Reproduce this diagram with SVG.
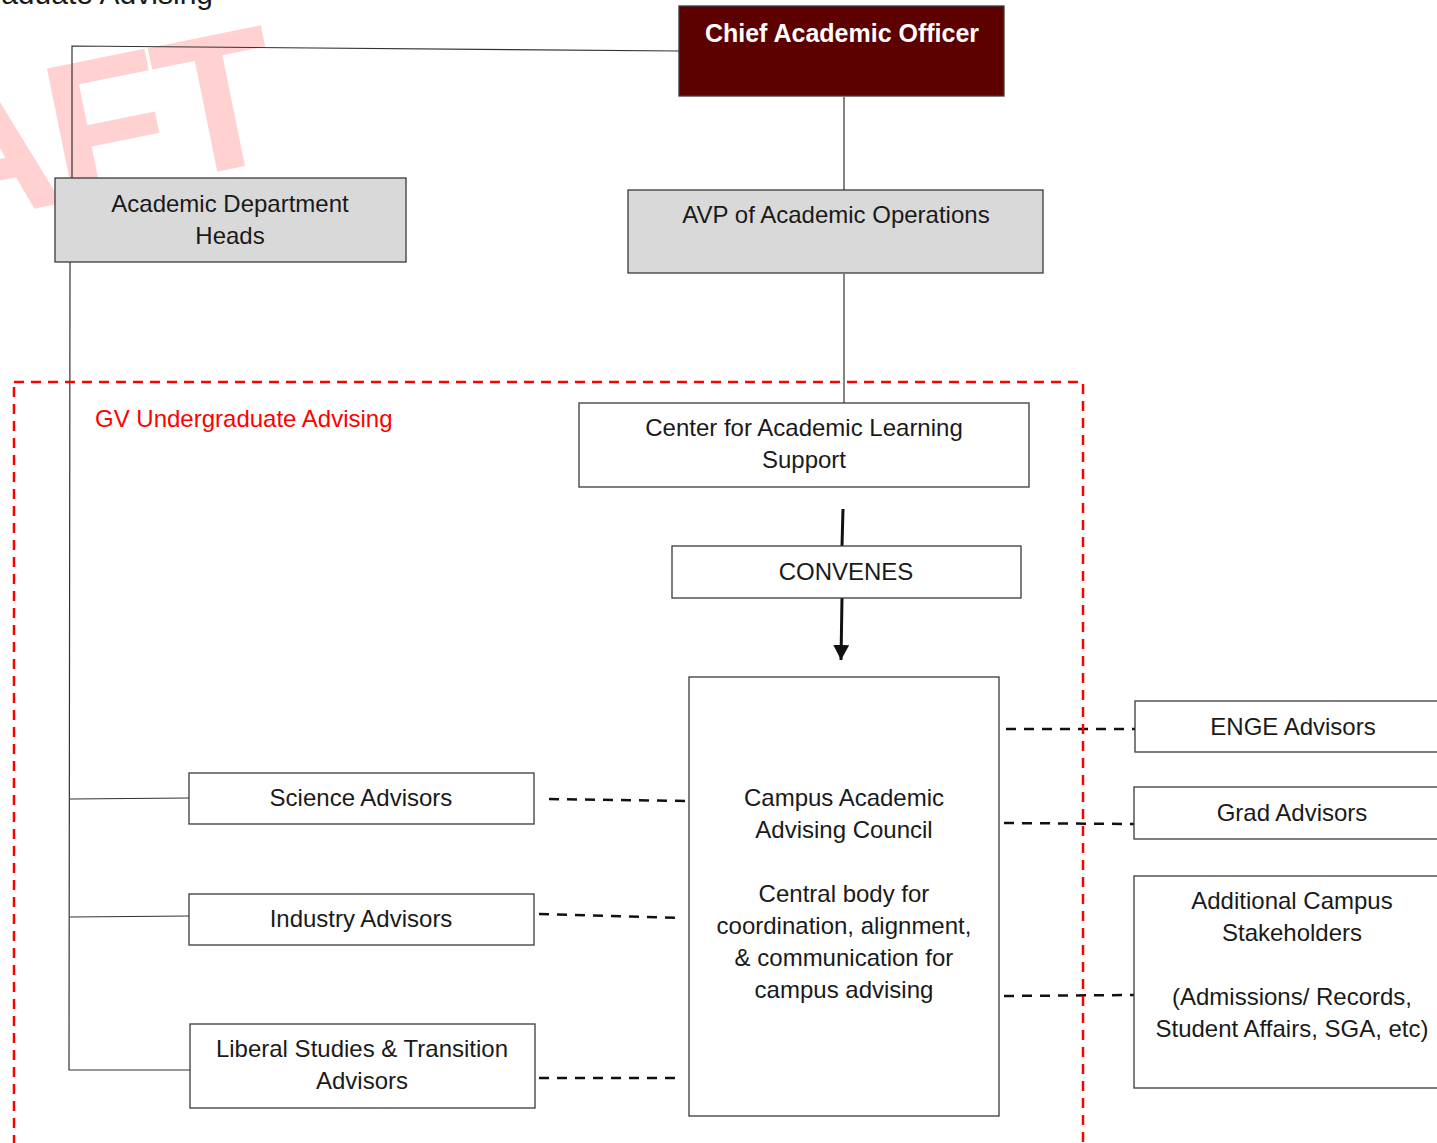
<svg xmlns="http://www.w3.org/2000/svg" width="1437" height="1143" viewBox="0 0 1437 1143">
<defs>
<marker id="arr" markerUnits="userSpaceOnUse" markerWidth="16" markerHeight="16" refX="15" refY="8" orient="auto">
<path d="M0,0 L15,8 L0,16 Z" fill="#111"/>
</marker>
<style>
.box{fill:#fff;stroke:#3a3a3a;stroke-width:1.3}
.gray{fill:#D9D9D9;stroke:#3a3a3a;stroke-width:1.3}
.t{font-family:"Liberation Sans",Arial,sans-serif;font-size:24px;fill:#1a1a1a;text-anchor:middle}
.ln{fill:none;stroke:#333;stroke-width:1.2}
.dash{fill:none;stroke:#111;stroke-width:2.5;stroke-dasharray:10 8}
.thick{fill:none;stroke:#111;stroke-width:3}
</style>
</defs>
<rect width="1437" height="1143" fill="#fff"/>
<text transform="translate(284,158) rotate(-11.5)" x="0" y="0" font-family="Liberation Sans,Arial,sans-serif" font-weight="bold" font-size="196" letter-spacing="-6" fill="#FF0000" fill-opacity="0.18" text-anchor="end">DRAFT</text>
<text x="213" y="4" font-family="Liberation Sans,Arial,sans-serif" font-size="30" fill="#1a1a1a" text-anchor="end">Undergraduate Advising</text>

<g id="connectors">
<polyline class="ln" points="679,51 72,46 72,178"/>
<polyline class="ln" points="70,262 69,1070 190,1070"/>
<line class="ln" x1="70" y1="799" x2="189" y2="798"/>
<line class="ln" x1="70" y1="917" x2="189" y2="916"/>
<line class="ln" x1="844" y1="97" x2="844" y2="190"/>
<line class="ln" x1="844" y1="274" x2="844" y2="403"/>
<line class="thick" x1="843" y1="509" x2="842" y2="546"/>
<line class="thick" x1="842" y1="598" x2="841" y2="660" marker-end="url(#arr)"/>
<line class="dash" x1="549" y1="799" x2="685" y2="801"/>
<line class="dash" x1="539" y1="914" x2="681" y2="918"/>
<line class="dash" x1="539" y1="1078" x2="681" y2="1078"/>
<line class="dash" x1="1006" y1="729" x2="1137" y2="729"/>
<line class="dash" x1="1004" y1="823" x2="1135" y2="824"/>
<line class="dash" x1="1004" y1="996" x2="1135" y2="995"/>
</g>

<g id="gv-region">
<rect x="14" y="382" width="1069" height="800" fill="none" stroke="#FF0000" stroke-width="2.5" stroke-dasharray="10 7"/>
<text x="95" y="427" font-family="Liberation Sans,Arial,sans-serif" font-size="24" fill="#FF0000">GV Undergraduate Advising</text>
</g>

<g id="cao">
<rect x="679" y="6" width="325" height="90" fill="#5C0000" stroke="#3a3a3a" stroke-width="1.3"/>
<text class="t" x="842" y="42" style="fill:#fff;font-weight:bold;font-size:25px">Chief Academic Officer</text>
</g>
<g id="adh">
<rect class="gray" x="55" y="178" width="351" height="84"/>
<text class="t" x="230" y="212">Academic Department</text>
<text class="t" x="230" y="244">Heads</text>
</g>
<g id="avp">
<rect class="gray" x="628" y="190" width="415" height="83"/>
<text class="t" x="836" y="223">AVP of Academic Operations</text>
</g>
<g id="cals">
<rect class="box" x="579" y="403" width="450" height="84"/>
<text class="t" x="804" y="436">Center for Academic Learning</text>
<text class="t" x="804" y="468">Support</text>
</g>
<g id="convenes">
<rect class="box" x="672" y="546" width="349" height="52"/>
<text class="t" x="846" y="580">CONVENES</text>
</g>
<g id="caac">
<rect class="box" x="689" y="677" width="310" height="439"/>
<text class="t" x="844" y="806">Campus Academic</text>
<text class="t" x="844" y="838">Advising Council</text>
<text class="t" x="844" y="902">Central body for</text>
<text class="t" x="844" y="934">coordination, alignment,</text>
<text class="t" x="844" y="966">&amp; communication for</text>
<text class="t" x="844" y="998">campus advising</text>
</g>
<g id="science">
<rect class="box" x="189" y="773" width="345" height="51"/>
<text class="t" x="361" y="806">Science Advisors</text>
</g>
<g id="industry">
<rect class="box" x="189" y="894" width="345" height="51"/>
<text class="t" x="361" y="927">Industry Advisors</text>
</g>
<g id="liberal">
<rect class="box" x="190" y="1024" width="345" height="84"/>
<text class="t" x="362" y="1057">Liberal Studies &amp; Transition</text>
<text class="t" x="362" y="1089">Advisors</text>
</g>
<g id="enge">
<rect class="box" x="1135" y="701" width="320" height="51"/>
<text class="t" x="1293" y="735">ENGE Advisors</text>
</g>
<g id="grad">
<rect class="box" x="1134" y="787" width="320" height="52"/>
<text class="t" x="1292" y="821">Grad Advisors</text>
</g>
<g id="additional">
<rect class="box" x="1134" y="876" width="320" height="212"/>
<text class="t" x="1292" y="909">Additional Campus</text>
<text class="t" x="1292" y="941">Stakeholders</text>
<text class="t" x="1292" y="1005">(Admissions/ Records,</text>
<text class="t" x="1292" y="1037">Student Affairs, SGA, etc)</text>
</g>
</svg>
